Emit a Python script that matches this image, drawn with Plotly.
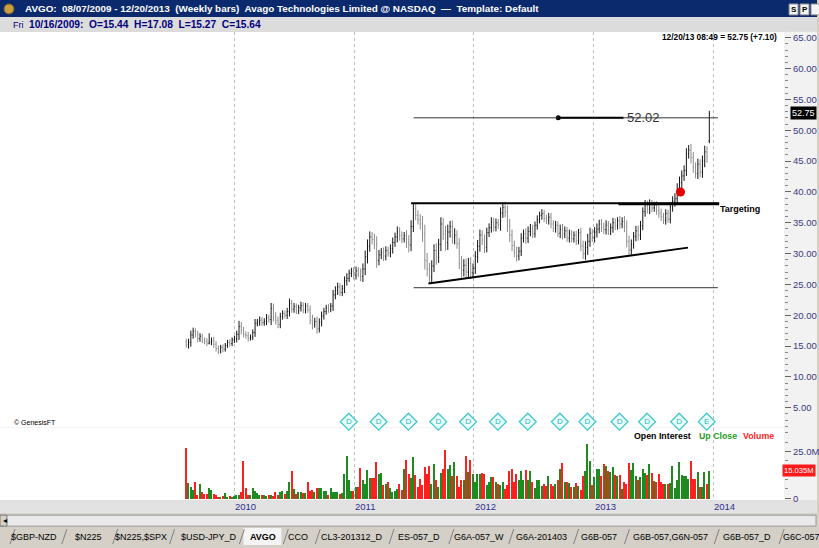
import pandas as pd
import plotly.graph_objects as go

W, H = 819, 548

# ---------------- data (weekly bars, AVGO) ----------------
close_2009 = [15.2, 15.6, 16.8, 17.4, 16.9, 16.2, 16.6, 15.9, 15.8, 15.5, 15.64, 15.9, 15.3, 14.6, 14.2,
              14.8, 14.5, 15.1, 15.6, 15.4, 16.0, 16.2]
close_2010 = [16.9, 18.2, 17.6, 16.9, 16.7, 16.3, 16.5, 17.2, 18.7, 18.9, 19.2, 18.8, 19.0, 19.6, 19.3,
              21.1, 19.8, 19.2, 18.5, 19.8, 20.3, 20.0, 20.6, 21.9, 21.0, 21.4, 20.7, 21.2, 21.6, 20.8,
              21.5, 20.9, 19.2, 18.6, 19.0, 17.8, 18.9, 19.9, 20.6, 21.2, 21.0, 21.5, 23.3, 24.0, 24.6,
              23.7, 24.3, 25.6, 26.0, 26.8, 27.1, 26.5]
close_2011 = [27.2, 26.8, 26.3, 27.5, 29.5, 31.2, 32.7, 32.3, 31.6, 28.9, 29.8, 30.2, 29.6, 30.5, 30.1,
              30.8, 31.8, 32.7, 33.5, 32.9, 32.4, 32.9, 31.8, 31.4, 34.4, 37.3, 36.2, 35.5, 34.8, 33.2,
              28.9, 27.5, 26.2, 28.0, 30.5, 29.4, 31.5, 34.8, 33.2, 31.8, 33.5, 34.4, 32.6, 33.0, 31.6,
              28.4, 27.3, 28.1, 27.0, 28.4, 26.9, 27.6]
close_2012 = [29.5, 31.2, 33.0, 32.2, 31.0, 33.4, 34.2, 35.1, 34.3, 35.0, 34.6, 36.6, 37.5, 36.8, 34.5,
              33.0, 31.3, 30.2, 29.6, 30.4, 32.5, 33.2, 32.5, 33.6, 34.0, 33.2, 34.6, 35.5, 36.2, 36.5,
              35.7, 35.4, 35.9, 34.8, 34.1, 34.6, 33.3, 33.9, 33.2, 33.7, 32.5, 33.2, 32.4, 33.0, 32.1,
              33.4, 31.2, 30.0, 31.0, 32.0, 33.3, 32.6]
close_2013 = [33.5, 34.0, 34.8, 34.3, 33.9, 34.6, 33.7, 34.2, 35.0, 34.5, 35.3, 34.8, 35.2, 34.4, 32.0,
              30.6, 31.5, 32.8, 33.7, 33.0, 34.5, 36.8, 37.9, 37.2, 38.0, 37.4, 37.8, 37.0, 36.6, 36.0,
              35.4, 36.5, 35.6, 37.6, 38.5, 38.9, 40.6, 41.5, 42.6, 43.5, 46.2, 46.8, 45.6, 44.0, 43.0,
              44.5, 43.2, 45.0, 46.5, 45.65, 52.75]

wick_2009 = [0.5, 0.6, 0.7, 0.6, 0.5, 0.6, 0.5, 0.4, 0.5, 0.5, 0.8, 0.5, 0.6, 0.5, 0.5, 0.4, 0.5, 0.4,
             0.4, 0.5, 0.4, 0.5]
wick_2010 = [0.6, 0.9, 0.7, 0.5, 0.5, 0.6, 0.4, 0.5, 0.7, 0.5, 0.6, 0.5, 0.5, 0.6, 0.5, 0.9, 0.8, 0.7,
             0.6, 0.6, 0.5, 0.5, 0.6, 0.8, 0.6, 0.6, 0.5, 0.5, 0.6, 0.5, 0.5, 0.5, 0.7, 0.9, 0.6, 0.8,
             0.6, 0.7, 0.6, 0.5, 0.6, 0.5, 0.8, 0.7, 0.7, 0.6, 0.6, 0.7, 0.8, 0.6, 0.6, 0.7]
wick_2011 = [0.7, 0.6, 0.8, 0.9, 1.0, 1.1, 0.9, 0.8, 0.9, 1.2, 0.8, 0.7, 0.8, 0.7, 0.6, 0.7, 0.8, 0.7,
             0.9, 0.8, 0.7, 0.6, 0.9, 1.2, 1.0, 0.9, 0.8, 0.8, 0.9, 1.3, 1.5, 1.2, 1.0, 0.9, 1.0, 1.2,
             0.9, 1.1, 1.0, 1.3, 1.2, 0.9, 1.0, 1.1, 0.8, 0.9, 1.2, 1.0, 1.1, 0.9, 1.0, 0.8]
wick_2012 = [0.9, 1.0, 0.9, 0.8, 0.9, 0.8, 0.7, 0.8, 0.7, 0.7, 0.6, 0.9, 0.8, 0.9, 1.0, 1.1, 0.9, 0.8,
             0.9, 0.7, 0.8, 0.7, 0.9, 0.8, 0.8, 0.7, 0.6, 0.7, 0.6, 0.7, 0.6, 0.6, 0.7, 0.7, 0.6, 0.7,
             0.6, 0.8, 0.9, 0.7, 0.6, 0.7, 0.6, 0.6, 0.7, 0.6, 0.8, 0.9, 1.0, 1.2, 0.9, 0.7]
wick_2013 = [0.8, 0.9, 0.7, 0.8, 0.7, 0.8, 0.7, 0.7, 0.8, 0.7, 0.6, 0.8, 0.7, 0.9, 1.0, 0.9, 0.8, 0.7,
             0.8, 0.9, 0.8, 0.7, 0.8, 0.7, 0.8, 0.7, 0.6, 0.7, 0.8, 0.7, 0.6, 0.7, 0.6, 0.7, 0.8, 0.9,
             0.8, 1.0, 0.9, 0.8, 0.9, 0.8, 1.0, 0.9, 0.8, 0.9, 0.8, 0.9, 1.0, 0.9, 0.4]

# volume in millions of shares
volume_2009 = [27.0, 8.5, 6.3, 4.7, 8.8, 2.2, 8.0, 3.4, 2.5, 2.5, 5.9, 4.7, 2.5, 2.2, 0.5, 0.8, 1.2, 2.9,
               0.8, 1.2, 0.8, 1.5]
volume_2010 = [1.7, 1.7, 3.7, 20.0, 5.6, 1.7, 1.7, 5.9, 3.9, 2.9, 1.7, 2.2, 1.7, 1.2, 1.7, 2.2, 1.2, 3.4,
               2.2, 3.4, 4.2, 2.5, 4.2, 8.8, 14.7, 5.0, 2.5, 3.4, 3.4, 2.9, 2.9, 8.8, 4.2, 4.5, 3.4, 5.9,
               5.6, 5.6, 4.2, 4.2, 2.2, 5.9, 3.4, 3.4, 3.4, 2.5, 3.0, 13.0, 23.0, 10.0, 4.2, 3.9]
volume_2011 = [6.3, 6.3, 16.6, 10.0, 8.0, 15.3, 11.0, 11.0, 11.0, 19.8, 13.0, 13.6, 7.3, 7.6, 8.8, 5.9,
               3.4, 4.2, 5.0, 7.6, 4.5, 15.8, 20.8, 13.0, 11.0, 22.0, 12.4, 6.3, 10.5, 7.3, 17.0, 13.0,
               17.5, 8.0, 18.3, 10.0, 6.3, 13.9, 16.0, 26.0, 15.6, 17.8, 12.2, 19.5, 12.2, 6.3, 9.7, 9.7,
               23.0, 14.4, 20.8, 13.0]
volume_2012 = [8.8, 13.2, 13.2, 13.7, 13.2, 7.3, 8.8, 11.4, 11.4, 8.8, 8.0, 7.3, 8.8, 5.0, 7.3, 15.0,
               15.6, 9.0, 13.0, 10.0, 15.0, 10.0, 15.3, 9.7, 15.0, 8.8, 5.6, 10.0, 10.0, 6.8, 8.0, 6.8,
               11.9, 8.0, 6.8, 7.6, 9.8, 15.8, 19.0, 9.0, 8.8, 8.5, 6.3, 6.3, 8.5, 6.8, 4.5, 11.9, 15.0,
               29.0, 20.0, 7.3]
volume_2013 = [11.4, 16.0, 15.6, 12.2, 18.3, 17.5, 15.0, 14.4, 17.0, 12.7, 12.2, 12.7, 5.0, 9.0, 8.0,
               19.0, 15.3, 19.0, 12.2, 10.0, 11.5, 16.0, 13.6, 12.4, 18.3, 13.6, 9.3, 9.0, 13.2, 8.8,
               7.6, 7.6, 8.0, 8.5, 17.5, 5.9, 9.8, 19.5, 12.4, 12.2, 11.9, 10.5, 20.3, 10.5, 10.5, 14.0,
               6.3, 6.3, 14.0, 8.0, 15.035]

gap_opens = {"2009-08-07": 15.7, "2013-12-20": 48.3}
header_bar = {"date": "2009-10-16", "open": 15.44, "high": 17.08, "low": 15.27, "close": 15.64}
last_quote = {"stamp": "12/20/13 08:49", "price": 52.75, "change": 7.10}
last_volume_m = 15.035

dividend_dates = ["2010-12-16", "2011-03-17", "2011-06-16", "2011-09-15", "2011-12-15", "2012-03-15",
                  "2012-06-14", "2012-09-20", "2012-12-13", "2013-03-21", "2013-06-13", "2013-09-19",
                  "2013-12-12"]
dividend_codes = ["D"] * 12 + ["E"]

price_ticks = [5, 10, 15, 20, 25, 30, 35, 40, 45, 50, 55, 60, 65]
volume_ticks = [0, 25]
volume_tick_text = ["0", "25.0M"]
year_starts = ["2010-01-01", "2011-01-01", "2012-01-01", "2013-01-01", "2014-01-01"]
year_labels = ["2010", "2011", "2012", "2013", "2014"]

# drawn studies
target_price = 52.02
target_span = ("2011-07-02", "2014-01-15")
target_segment = ("2012-09-15", "2013-04-02")
resistance_price = 38.15
resistance_span = ("2011-06-24", "2014-01-19")
resistance_bold_start = "2013-03-18"
support_price = 24.47
support_span = ("2011-07-02", "2014-01-15")
trend_start = ("2011-08-16", 25.16)
trend_end = ("2013-10-16", 30.97)
signal_point = ("2013-09-23", 40.0)

tabs = ["$GBP-NZD", "$N225", "$N225,$SPX", "$USD-JPY_D", "AVGO", "CCO", "CL3-201312_D", "ES-057_D",
        "G6A-057_W", "G6A-201403", "G6B-057", "G6B-057,G6N-057", "G6B-057_D", "G6C-057"]
active_tab = "AVGO"

# ---------------- assemble bars ----------------
close = close_2009 + close_2010 + close_2011 + close_2012 + close_2013
wick = wick_2009 + wick_2010 + wick_2011 + wick_2012 + wick_2013
volume = volume_2009 + volume_2010 + volume_2011 + volume_2012 + volume_2013
n = min(len(close), len(wick), len(volume))
close, wick, volume = close[:n], wick[:n], volume[:n]
dates = pd.date_range("2009-08-07", periods=n, freq="7D")

opens, highs, lows = [], [], []
for i, d in enumerate(dates):
    key = d.strftime("%Y-%m-%d")
    o = gap_opens.get(key, close[i - 1] if i > 0 else close[0])
    c = close[i]
    hi, lo = max(o, c) + wick[i], min(o, c) - wick[i]
    if key == header_bar["date"]:
        o, hi, lo = header_bar["open"], header_bar["high"], header_bar["low"]
        close[i] = header_bar["close"]
    opens.append(o); highs.append(hi); lows.append(lo)

vol_colors = ["#1f8a1f" if (i > 0 and close[i] > close[i - 1]) else "#ff1f1f" for i in range(n)]

# ---------------- geometry helpers ----------------
def xp(px):
    return px / W

def yp(py):
    return 1 - py / H

def px2date(px):
    return pd.Timestamp("2010-01-01") + pd.Timedelta(days=(px - 235) / 120 * 365.25)

PLOT_R = 786
PRICE_TOP, SPLIT, BOTTOM = 32, 430, 503
ppu = 6.2  # px per dollar, 65 at y=38
price_range = [65 - (SPLIT - 38) / ppu, 65 + (38 - PRICE_TOP) / ppu]
ppm = 1.88  # px per million, 0 at y=501
vol_range = [-(BOTTOM - 501) / ppm, (501 - SPLIT) / ppm]

FONT = "Liberation Sans, Arial, sans-serif"
AXIS_C = "#3a3a80"
GRID_C = "#bcbcbc"

fig = go.Figure()

fig.add_trace(go.Ohlc(
    x=dates, open=opens, high=highs, low=lows, close=close,
    increasing=dict(line=dict(color="#141414", width=1)),
    decreasing=dict(line=dict(color="#8c8c8c", width=1)),
    tickwidth=0.3, xaxis="x", yaxis="y", hoverinfo="skip", showlegend=False))

fig.add_trace(go.Bar(
    x=dates, y=volume, marker=dict(color=vol_colors, line=dict(width=0)),
    width=4.6 * 86400000, xaxis="x2", yaxis="y2", showlegend=False, hoverinfo="skip"))

# dividend / earnings markers
div_y = 65 - (424 - 38) / ppu
fig.add_trace(go.Scatter(
    x=pd.to_datetime(dividend_dates), y=[div_y] * len(dividend_dates), mode="markers+text",
    text=dividend_codes, textposition="middle center",
    textfont=dict(family=FONT, size=8, color="#28b4b4"),
    marker=dict(symbol="diamond", size=13, color="#eaffff", line=dict(color="#42c8c8", width=1.3)),
    cliponaxis=False, xaxis="x", yaxis="y", showlegend=False, hoverinfo="skip"))

# target dot and signal dot
fig.add_trace(go.Scatter(
    x=[pd.Timestamp(target_segment[0])], y=[target_price], mode="markers",
    marker=dict(size=5, color="black"), xaxis="x", yaxis="y", showlegend=False, hoverinfo="skip"))
fig.add_trace(go.Scatter(
    x=[pd.Timestamp(signal_point[0])], y=[signal_point[1]], mode="markers",
    marker=dict(size=9, color="#e00000"), xaxis="x", yaxis="y", showlegend=False, hoverinfo="skip"))

shapes = []
ann = []

def rect(x0, y0, x1, y1, fill, line=None, layer="below"):
    shapes.append(dict(type="rect", xref="paper", yref="paper", x0=xp(x0), x1=xp(x1), y0=yp(y1), y1=yp(y0),
                       fillcolor=fill, line=dict(width=1 if line else 0, color=line or fill), layer=layer))

def text(px, py, s, size=9, color="black", bold=False, anchor="left", family=FONT, **kw):
    ann.append(dict(xref="paper", yref="paper", x=xp(px), y=yp(py), text=("<b>%s</b>" % s) if bold else s,
                    showarrow=False, xanchor=anchor, yanchor="middle",
                    font=dict(family=family, size=size, color=color), **kw))

# window chrome
rect(0, 0, W, 17, "#0b2a6e", layer="above")
rect(0, 17, W, PRICE_TOP, "#dcdcdc")
rect(PLOT_R, PRICE_TOP, W, BOTTOM, "#f2f2f2")
rect(0, BOTTOM, W, 516, "#e2e2e2")
rect(0, 516, W, H, "#d4d0c8")
rect(0, 518, W - 1, 529, "#e9e9e9", line="#9a9a9a")
rect(0, 518, 7, 529, "#d4d0c8", line="#7a7a7a")
shapes.append(dict(type="circle", xref="paper", yref="paper", x0=xp(4), x1=xp(14), y0=yp(14), y1=yp(4),
                   fillcolor="#c8a040", line=dict(color="#806020", width=1), layer="above"))
for bx, lab in [(791, "S"), (802, "P"), (813, "")]:
    rect(bx, 4, bx + 9, 15, "#f4f4f4", line="#909090", layer="above")
    if lab:
        text(bx + 4.5, 10, lab, size=8, color="black", bold=True, anchor="center")

title = ("AVGO:  08/07/2009 - 12/20/2013  (Weekly bars)  Avago Technologies Limited @ NASDAQ  "
         "\u2014  Template: Default")
text(23, 9, title, size=9.9, color="white", bold=True)
text(11, 25, "Fri", size=9, color="#000080")
hb = header_bar
d = pd.Timestamp(hb["date"])
text(27, 25, "%s:  O=%.2f  H=%.2f  L=%.2f  C=%.2f" % (d.strftime("%m/%d/%Y"), hb["open"], hb["high"],
                                                     hb["low"], hb["close"]),
     size=10.2, color="#000080", bold=True)

# last quote line
text(781, 37, "%s = %.2f (+%.2f)" % (last_quote["stamp"], last_quote["price"], last_quote["change"]),
     size=8.3, color="black", bold=True, anchor="right")

# price label boxes
ann.append(dict(xref="paper", yref="y", x=xp(792), y=last_quote["price"], text="%.2f" % last_quote["price"],
                showarrow=False, xanchor="left", yanchor="middle", bgcolor="black", borderpad=1,
                font=dict(family=FONT, size=9, color="white")))
ann.append(dict(xref="paper", yref="y2", x=xp(818), y=last_volume_m, text="%.3fM" % last_volume_m,
                showarrow=False, xanchor="right", yanchor="middle", bgcolor="#ff1a1a", borderpad=1,
                font=dict(family=FONT, size=7.6, color="white")))

# footer texts in plot
text(12, 425, "\u00a9 GenesisFT", size=7, color="black")
text(634, 438, "Open Interest", size=8.8, color="black", bold=True)
text(699, 438, "Up Close", size=8.8, color="#1f9a1f", bold=True)
text(743, 438, "Volume", size=8.8, color="#ff1f1f", bold=True)

# year labels
for ds, lab in zip(year_starts, year_labels):
    ann.append(dict(xref="x2", yref="paper", x=pd.Timestamp(ds), y=yp(509), text=lab, showarrow=False,
                    xanchor="left", yanchor="middle", xshift=-1,
                    font=dict(family=FONT, size=9.5, color="#2f2f90")))

# drawn lines (studies)
def dline(x0, y0, x1, y1, width, color="black"):
    shapes.append(dict(type="line", xref="x", yref="y", x0=pd.Timestamp(x0), y0=y0, x1=pd.Timestamp(x1),
                       y1=y1, line=dict(color=color, width=width), layer="above"))

dline(target_span[0], target_price, target_span[1], target_price, 1, "#333333")
dline(target_segment[0], target_price, target_segment[1], target_price, 2)
dline(resistance_span[0], resistance_price, resistance_span[1], resistance_price, 2)
dline(resistance_bold_start, resistance_price - 0.1, resistance_span[1], resistance_price - 0.1, 2.5)
dline(support_span[0], support_price, support_span[1], support_price, 1, "#333333")
dline(trend_start[0], trend_start[1], trend_end[0], trend_end[1], 2)

ann.append(dict(xref="x", yref="y", x=pd.Timestamp(target_segment[1]) + pd.Timedelta(days=5), y=target_price,
                text="%.2f" % target_price, showarrow=False, xanchor="left", yanchor="middle",
                font=dict(family=FONT, size=13, color="#333333")))
ann.append(dict(xref="x", yref="y", x=pd.Timestamp(resistance_span[1]) - pd.Timedelta(days=3),
                y=resistance_price - 0.95, text="<b>Targeting</b>", showarrow=False, xanchor="left",
                yanchor="middle", font=dict(family=FONT, size=9, color="black")))

# tabs
tab_centers = [34, 89, 141, 210, 264, 299, 353, 420, 480, 543, 600, 672, 749, 803]
tab_seps = [10, 62, 113, 170, 240, 284, 316, 390, 450, 510, 575, 626, 716, 781]
rect(244, 531, 282, H, "#f4f4f4")
for sx in tab_seps:
    shapes.append(dict(type="line", xref="paper", yref="paper", x0=xp(sx), y0=yp(H - 1), x1=xp(sx + 5),
                       y1=yp(532), line=dict(color="#808080", width=1)))
for lab, cx in zip(tabs, tab_centers):
    text(cx, 540, lab, size=9, color="black", bold=(lab == active_tab), anchor="center")
text(1.5, 523.5, "\u25c2", size=8, color="black")

grid_common = dict(type="date", showticklabels=False, ticks="", showgrid=True, gridcolor=GRID_C,
                   griddash="dot", gridwidth=1, tickmode="array", tickvals=pd.to_datetime(year_starts),
                   zeroline=False, showline=False)

fig.update_layout(
    width=W, height=H, margin=dict(l=0, r=0, t=0, b=0),
    paper_bgcolor="#d4d0c8", plot_bgcolor="white",
    font=dict(family=FONT),
    showlegend=False, bargap=0,
    shapes=shapes, annotations=ann,
    xaxis=dict(domain=[0, xp(PLOT_R)], range=[px2date(0), px2date(PLOT_R)], anchor="y",
               rangeslider=dict(visible=False), **grid_common),
    xaxis2=dict(domain=[0, xp(PLOT_R)], matches="x", anchor="y2", **grid_common),
    yaxis=dict(domain=[yp(SPLIT), yp(PRICE_TOP)], range=price_range, side="right", anchor="x",
               tickvals=price_ticks, ticktext=["%.2f" % v for v in price_ticks], ticks="outside",
               ticklen=6, tickcolor="#666666", showgrid=False, zeroline=False, showline=False,
               tickfont=dict(family=FONT, size=9.5, color=AXIS_C),
               minor=dict(dtick=1, tick0=0, ticks="outside", ticklen=3, tickcolor="#888888")),
    yaxis2=dict(domain=[yp(BOTTOM), yp(SPLIT)], range=vol_range, side="right", anchor="x2",
                tickvals=volume_ticks, ticktext=volume_tick_text, ticks="outside", ticklen=6,
                tickcolor="#666666", showgrid=False, zeroline=False, showline=False,
                tickfont=dict(family=FONT, size=9.5, color=AXIS_C),
                minor=dict(dtick=5, tick0=0, ticks="outside", ticklen=3, tickcolor="#888888")),
)

fig.write_html("out.html")
